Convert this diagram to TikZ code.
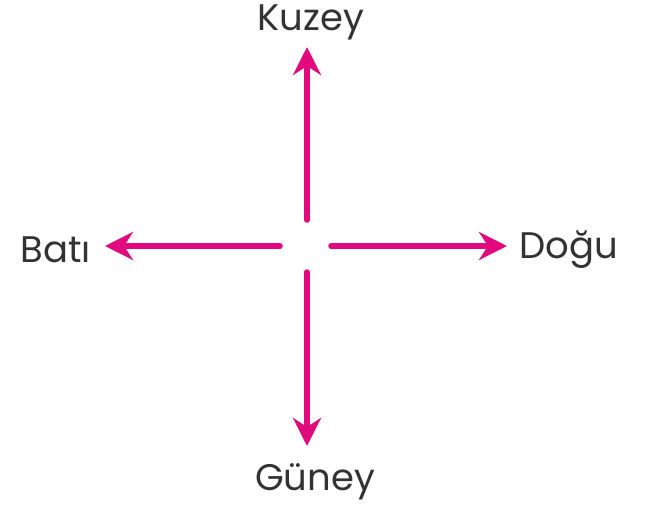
\documentclass[tikz,border=0pt]{standalone}
\usepackage{fontspec}
\setmainfont{Poppins}
\usetikzlibrary{arrows.meta}
\definecolor{mag}{HTML}{E2097E}
\definecolor{txt}{HTML}{333333}
\tikzset{
  arr/.style={draw=mag, line width=5.5pt, line cap=round, -{Stealth[length=28pt, width=28pt, inset=9pt]}},
  lbl/.style={text=txt, font=\fontsize{37}{42}\selectfont, inner sep=0pt}
}
\begin{document}
\begin{tikzpicture}[x=1pt,y=-1pt]
\useasboundingbox[fill=white] (0,0) rectangle (653,506);
\coordinate (cu) at (307,220);
\coordinate (cd) at (307,272);
\coordinate (cl) at (280,246);
\coordinate (cr) at (331,246);
\node[lbl] (n) at (311,22) {Kuzey};
\node[lbl] (s) at (315,482) {Güney};
\node[lbl, anchor=east] (w) at (91,250) {Batı};
\node[lbl, anchor=west] (e) at (519,250) {Doğu};
\coordinate (nt) at (307,47);
\coordinate (st) at (307,446);
\coordinate (wt) at (105,246);
\coordinate (et) at (507,246);
\draw[arr] (cu) -- (nt);
\draw[arr] (cd) -- (st);
\draw[arr] (cl) -- (wt);
\draw[arr] (cr) -- (et);
\end{tikzpicture}
\end{document}
